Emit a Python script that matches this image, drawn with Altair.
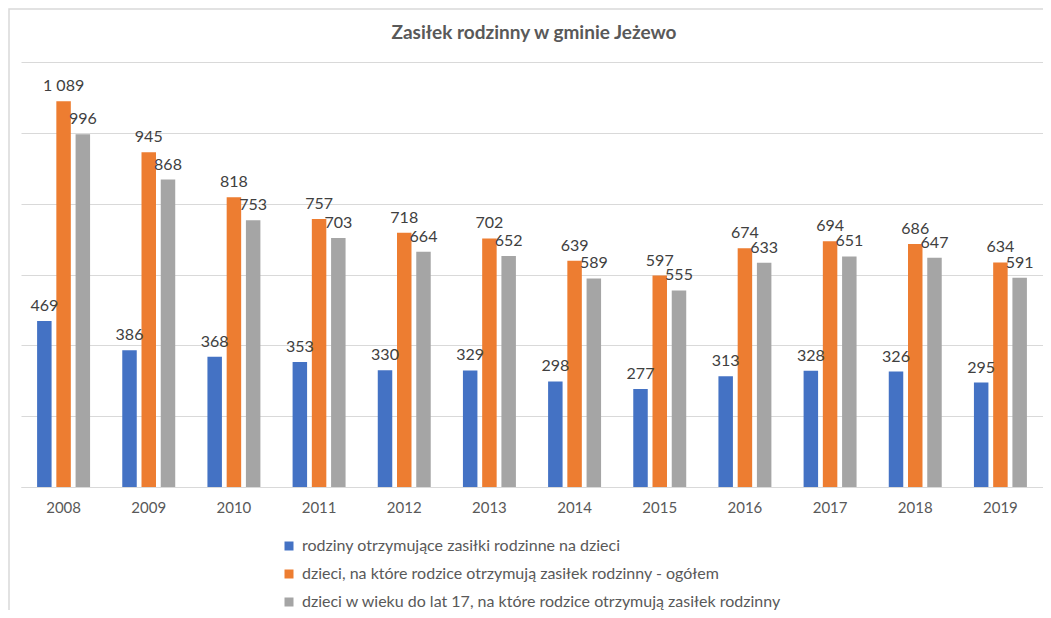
import altair as alt
import pandas as pd

title_text = "Zasiłek rodzinny w gminie Jeżewo"
years = ["2008", "2009", "2010", "2011", "2012", "2013", "2014", "2015", "2016", "2017", "2018", "2019"]
series = [
    "rodziny otrzymujące zasiłki rodzinne na dzieci",
    "dzieci, na które rodzice otrzymują zasiłek rodzinny - ogółem",
    "dzieci w wieku do lat 17, na które rodzice otrzymują zasiłek rodzinny",
]
rodziny = [469, 386, 368, 353, 330, 329, 298, 277, 313, 328, 326, 295]
dzieci_ogolem = [1089, 945, 818, 757, 718, 702, 639, 597, 674, 694, 686, 634]
dzieci_do_17 = [996, 868, 753, 703, 664, 652, 589, 555, 633, 651, 647, 591]
colors = ["#4472C4", "#ED7D31", "#A5A5A5"]
grid_values = [0, 200, 400, 600, 800, 1000, 1200]

rows = []
for s, vals in zip(series, [rodziny, dzieci_ogolem, dzieci_do_17]):
    for yr, v in zip(years, vals):
        rows.append({"rok": yr, "seria": s, "wartosc": v,
                     "etykieta": f"{v:,}".replace(",", " ")})
df = pd.DataFrame(rows)

W, H = 1022, 425

x_enc = alt.X("rok:N", sort=years, title=None,
              scale=alt.Scale(paddingInner=0.378, paddingOuter=0.189),
              axis=alt.Axis(labelAngle=0, ticks=False, domainColor="#D9D9D9",
                            labelColor="#595959", labelFontSize=15,
                            labelPadding=13, grid=False))
xo_enc = alt.XOffset("seria:N", sort=series, scale=alt.Scale(paddingInner=0.247))
y_enc = alt.Y("wartosc:Q", title=None, scale=alt.Scale(domain=[0, 1200]),
              axis=alt.Axis(values=grid_values, labels=False, ticks=False,
                            domain=False, gridColor="#D9D9D9"))
color_enc = alt.Color("seria:N", sort=series,
                      scale=alt.Scale(domain=series, range=colors),
                      legend=alt.Legend(orient="none", legendX=260, legendY=476,
                                        direction="vertical", title=None,
                                        symbolType="square", symbolSize=81,
                                        symbolStrokeWidth=0, labelFontSize=16,
                                        labelColor="#595959", rowPadding=12,
                                        labelLimit=900, labelOffset=5, padding=0))

base = alt.Chart(df)
bars = base.mark_bar().encode(x=x_enc, xOffset=xo_enc, y=y_enc, color=color_enc)
labels = base.mark_text(baseline="alphabetic", dy=-10, fontSize=16,
                        color="#404040").encode(x=x_enc, xOffset=xo_enc, y=y_enc,
                                                text="etykieta:N")

border = alt.Chart(pd.DataFrame({"k": [0]})).mark_rect(
    fill=None, stroke="#D9D9D9", strokeWidth=1.5
).encode(x=alt.value(-12), x2=alt.value(W + 40), y=alt.value(-53), y2=alt.value(H + 200))

title = alt.Chart(pd.DataFrame({"t": [title_text]})).mark_text(
    fontSize=19, fontWeight="bold", color="#595959", baseline="middle", align="center"
).encode(text="t:N", x=alt.value(513), y=alt.value(-29))

chart = alt.layer(border, bars, labels, title).properties(
    width=W, height=H,
    padding={"left": 13, "top": 54, "right": 0, "bottom": 123},
    autosize=alt.AutoSizeParams(type="none"),
).configure(font="Lato").configure_view(stroke=None)

chart.save("out.html", embed_options={"renderer": "svg", "actions": False})
